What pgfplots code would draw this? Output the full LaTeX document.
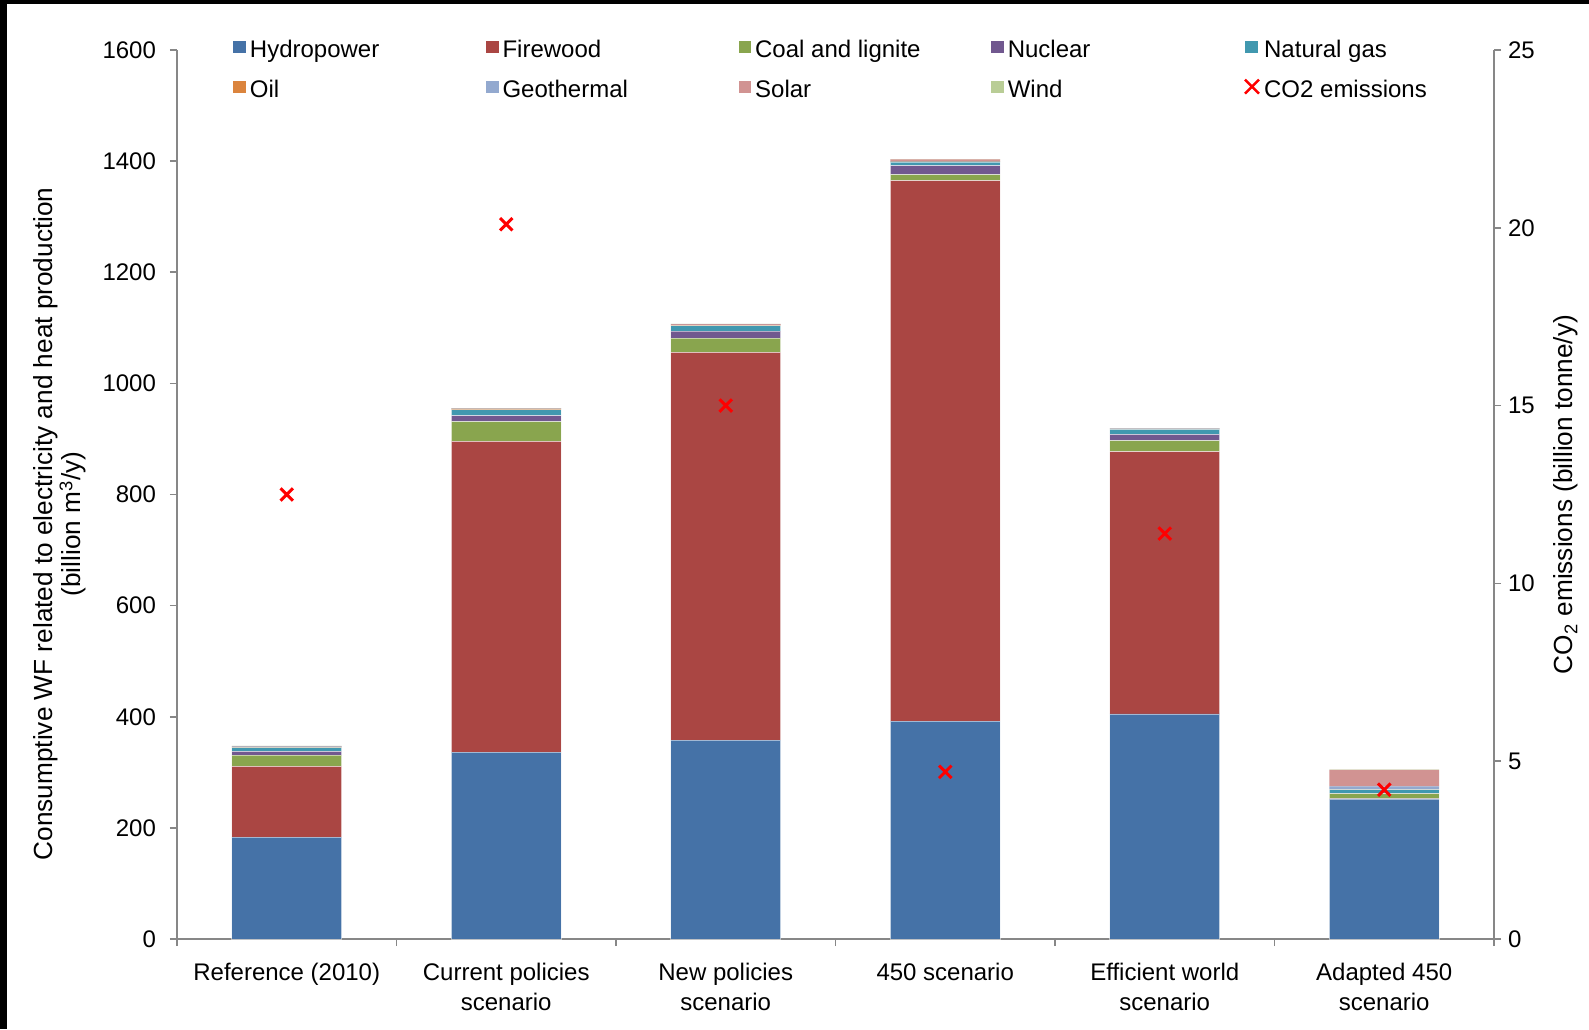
\documentclass[border=0pt]{standalone}
\usepackage{fontspec}
\setmainfont{Liberation Sans}
\usepackage{pgfplots}
\usepackage{pgfplotstable}
\pgfplotsset{compat=1.18}
\usetikzlibrary{calc}
\definecolor{cHydro}{HTML}{4572A7}
\definecolor{cFire}{HTML}{AA4643}
\definecolor{cCoal}{HTML}{89A54E}
\definecolor{cNuc}{HTML}{71588F}
\definecolor{cGas}{HTML}{4198AF}
\definecolor{cOil}{HTML}{DB843D}
\definecolor{cGeo}{HTML}{93A9CF}
\definecolor{cSolar}{HTML}{D19392}
\definecolor{cWind}{HTML}{B9CD96}
\definecolor{axgray}{HTML}{878787}
\pgfplotsset{co2leg/.style={legend image code/.code={\draw[red,line width=1.2pt] (0pt,-1.2pt)--(7pt,5.8pt) (0pt,5.8pt)--(7pt,-1.2pt);}}}
\pgfplotstableread{
x hydro fire coal nuc gas oil geo solar wind co2
0 183.5 127 20.5 6.5 7 1.5 0.5 0.8 0.5 12.5
1 336.5 559 35.5 11 10.5 1.5 0.5 0.5 0.5 20.1
2 358 698 25.5 12.5 9.5 1 1 1 0.5 15.0
3 392 973 10.5 16.5 6.5 0.5 1 3 0.5 4.7
4 405 472 20 11 9 0.8 0.8 0.5 0.5 11.4
5 252 0.5 9 1 6.5 0.5 5 30 0.5 4.2
}\data
\newcommand{\lb}[1]{\makebox[118pt][l]{#1}}
\begin{document}
\begin{tikzpicture}
\useasboundingbox (-88.5pt,-45pt) rectangle (706pt,469.5pt);
\fill[white] (-88.5pt,-45pt) rectangle (706pt,469.5pt);
\fill[black] (-88.5pt,467.5pt) rectangle (706pt,469.5pt);
\fill[black] (-88.5pt,-45pt) rectangle (-85pt,469.5pt);
\begin{axis}[
  scale only axis, width=658.5pt, height=444.5pt,
  xmin=-0.5, xmax=5.5, ymin=0, ymax=1600,
  ybar stacked, bar width=0.5,
  axis x line*=bottom, axis y line*=left,
  axis line style={axgray, line width=0.8pt},
  tick align=outside,
  xtick={0,...,5},
  xticklabels={Reference (2010),{Current policies\\scenario},{New policies\\scenario},450 scenario,{Efficient world\\scenario},{Adapted 450\\scenario}},
  minor xtick={-0.5,0.5,...,5.5},
  major x tick style={draw=none},
  minor x tick style={axgray, line width=0.8pt},
  minor tick length=3.5pt, major tick length=3.5pt,
  ytick={0,200,...,1600},
  y tick style={axgray, line width=0.8pt},
  /pgf/number format/1000 sep={},
  /pgf/number format/assume math mode=true,
  tick label style={font=\fontsize{12}{15}\selectfont, black},
  xticklabel style={align=center, yshift=-4.8pt},
  yticklabel style={xshift=-3.5pt},
  every axis y label/.style={at={($(rel axis cs:0,0.467)+(-58.5pt,0pt)$)}, rotate=90, anchor=center, align=center, font=\fontsize{13.1}{14.2}\selectfont},
  ylabel={Consumptive WF related to electricity and heat production\\(billion m\textsuperscript{3}/y)},
  legend columns=5,
  legend style={at={(0.0425,1)}, anchor=north west, yshift=5.5pt, draw=none, fill=none, inner sep=0pt,
    font=\fontsize{12}{14}\selectfont,
    nodes={inner sep=0pt, text height=9pt, text depth=3pt},
    /tikz/every odd column/.append style={column sep=2pt},
    /tikz/row sep=7.5pt},
  legend cell align=left,
  legend image code/.code={\fill[#1,draw=none] (0pt,-1.05pt) rectangle (6.3pt,5.25pt);},
]
\addplot[fill=cHydro, draw=white, draw opacity=0.5, line width=0.4pt] table[x=x,y=hydro]{\data};
\addlegendentry{\lb{Hydropower}}
\addplot[fill=cFire, draw=white, draw opacity=0.5, line width=0.4pt] table[x=x,y=fire]{\data};
\addlegendentry{\lb{Firewood}}
\addplot[fill=cCoal, draw=white, draw opacity=0.5, line width=0.4pt] table[x=x,y=coal]{\data};
\addlegendentry{\lb{Coal and lignite}}
\addplot[fill=cNuc, draw=white, draw opacity=0.5, line width=0.4pt] table[x=x,y=nuc]{\data};
\addlegendentry{\lb{Nuclear}}
\addplot[fill=cGas, draw=white, draw opacity=0.5, line width=0.4pt] table[x=x,y=gas]{\data};
\addlegendentry{\lb{Natural gas}}
\addplot[fill=cOil, draw=none] table[x=x,y=oil]{\data};
\addlegendentry{\lb{Oil}}
\addplot[fill=cGeo, draw=none] table[x=x,y=geo]{\data};
\addlegendentry{\lb{Geothermal}}
\addplot[fill=cSolar, draw=none] table[x=x,y=solar]{\data};
\addlegendentry{\lb{Solar}}
\addplot[fill=cWind, draw=none] table[x=x,y=wind]{\data};
\addlegendentry{\lb{Wind}}
\addlegendimage{co2leg}
\addlegendentry{\lb{CO2 emissions}}
\end{axis}
\begin{axis}[
  scale only axis, width=658.5pt, height=444.5pt,
  xmin=-0.5, xmax=5.5, ymin=0, ymax=25,
  axis y line*=right, axis x line=none,
  axis line style={axgray, line width=0.8pt},
  tick align=outside, major tick length=3.5pt,
  ytick={0,5,...,25},
  y tick style={axgray, line width=0.8pt},
  /pgf/number format/assume math mode=true,
  tick label style={font=\fontsize{12}{15}\selectfont, black},
  every axis y label/.style={at={($(rel axis cs:1,0.5)+(36pt,0pt)$)}, rotate=90, anchor=center, font=\fontsize{13.1}{14}\selectfont},
  ylabel={CO\textsubscript{2} emissions (billion tonne/y)},
]
\addplot[only marks, mark=x, mark size=4.4pt, red, line width=1.5pt] table[x=x,y=co2]{\data};
\end{axis}
\end{tikzpicture}
\end{document}
